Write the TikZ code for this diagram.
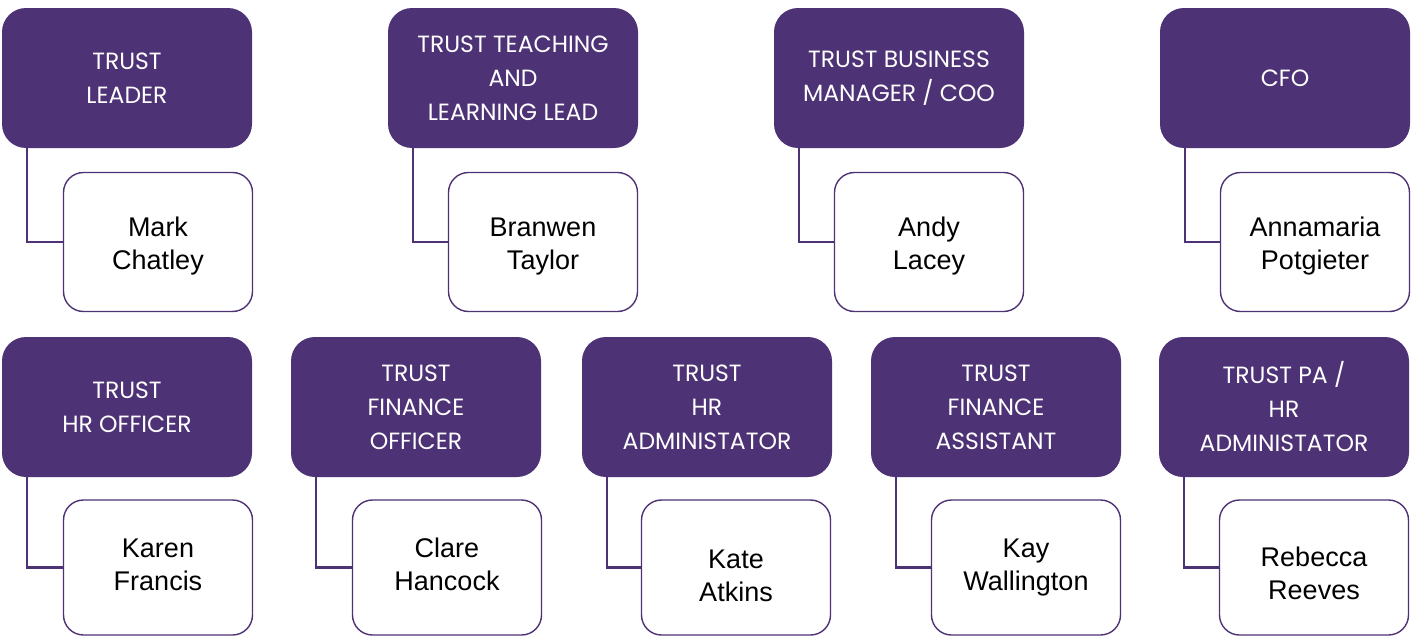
\documentclass[tikz,border=0pt]{standalone}
\usepackage{fontspec}
\setmainfont{Liberation Sans}
\newfontfamily\headfont{Poppins}
\definecolor{trustpurple}{RGB}{78,50,118}
\newcommand\padtop[1]{\rule{0pt}{#1pt}}
\newcommand\padbot[1]{\rule[-#1pt]{0pt}{0pt}}
\tikzset{
  headbox/.style={fill=trustpurple, draw=none, rounded corners=24pt, minimum width=250pt, minimum height=140pt, inner sep=0pt, align=center, text=white, font=\headfont\fontsize{23.5}{34}\selectfont},
  namebox/.style={fill=white, draw=trustpurple, line width=1.4pt, rounded corners=20pt, minimum width=189pt, minimum height=139pt, inner sep=0pt, align=center, text=black, font=\fontsize{27}{33}\selectfont},
  lowbox/.style={namebox, minimum height=135pt},
  link/.style={draw=trustpurple, line width=2.6pt}
}
\begin{document}
\begin{tikzpicture}[x=1pt,y=-1pt]
\useasboundingbox (0,0) rectangle (1414,637);
% top row
\node[headbox] (h1) at (127,78) {TRUST\\LEADER};
\node[namebox] (p1) at (158,242) {\padtop{28}Mark\\Chatley};
\node[headbox] (h2) at (513,78) {TRUST TEACHING\\AND\\LEARNING LEAD};
\node[namebox] (p2) at (543,242) {\padtop{28}Branwen\\Taylor};
\node[headbox] (h3) at (899,78) {TRUST BUSINESS\\MANAGER / COO};
\node[namebox] (p3) at (929,242) {\padtop{28}Andy\\Lacey};
\node[headbox] (h4) at (1285,78) {CFO};
\node[namebox] (p4) at (1315,242) {\padtop{28}Annamaria\\Potgieter};
% bottom row
\node[headbox] (h5) at (127,407) {TRUST\\HR OFFICER};
\node[lowbox] (p5) at (158,567.5) {Karen\\Francis\padbot{6}};
\node[headbox] (h6) at (416,407) {TRUST\\FINANCE\\OFFICER};
\node[lowbox] (p6) at (447,567.5) {Clare\\Hancock\padbot{6}};
\node[headbox] (h7) at (707,407) {TRUST\\HR\\ADMINISTATOR};
\node[lowbox] (p7) at (736,567.5) {\padtop{36}Kate\\Atkins};
\node[headbox] (h8) at (996,407) {TRUST\\FINANCE\\ASSISTANT};
\node[lowbox] (p8) at (1026,567.5) {Kay\\Wallington};
\node[headbox] (h9) at (1284,407) {TRUST PA /\\HR\\ADMINISTATOR};
\node[lowbox] (p9) at (1314,567.5) {\padtop{32}Rebecca\\Reeves};
% connectors
\foreach \i in {1,...,9}{
  \draw[link] ([xshift=25pt]h\i.south west) |- (p\i.west);
}
\end{tikzpicture}
\end{document}
